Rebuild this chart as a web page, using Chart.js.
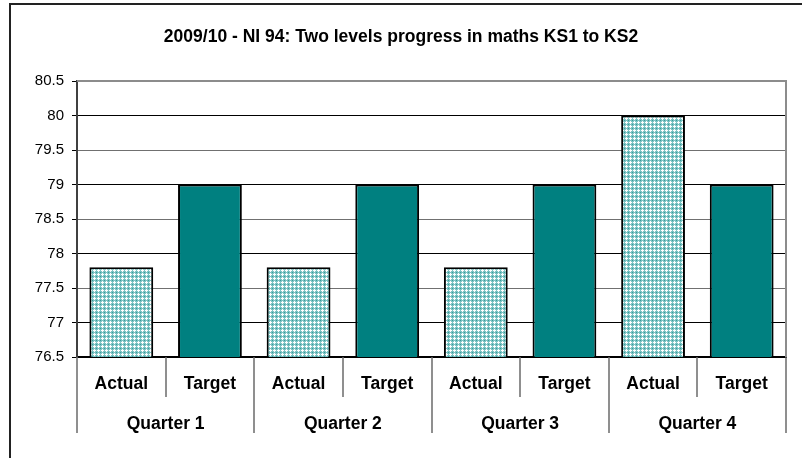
<!DOCTYPE html>
<html>
<head>
<meta charset="utf-8">
<script src="https://cdn.jsdelivr.net/npm/chart.js@4/dist/chart.umd.min.js"></script>
<style>
  html, body { margin: 0; padding: 0; background: #fff; }
  #wrap { width: 802px; height: 458px; }
</style>
</head>
<body>
<div id="wrap"><canvas id="chart" width="802" height="458"></canvas></div>
<script>
const categories = ['Actual', 'Target', 'Actual', 'Target', 'Actual', 'Target', 'Actual', 'Target'];
const quarters = ['Quarter 1', 'Quarter 2', 'Quarter 3', 'Quarter 4'];
const values = [77.8, 79, 77.8, 79, 77.8, 79, 80, 79];
const yMin = 76.5, yMax = 80.5, yStep = 0.5;

const FONT = "'Liberation Sans', Arial, sans-serif";

// hatched fill for the "Actual" bars
const makePattern = () => {
  const c = document.createElement('canvas');
  c.width = 4; c.height = 4;
  const g = c.getContext('2d');
  g.fillStyle = '#7cc3c3';
  g.fillRect(0, 0, 4, 4);
  g.fillStyle = '#ffffff';
  [[2,1],[1,2],[2,2],[3,2],[2,3]].forEach(p => g.fillRect(p[0], p[1], 1, 1));
  g.fillStyle = '#3a9a9a';
  g.fillRect(0, 0, 1, 1);
  return g.createPattern(c, 'repeat');
};
const hatch = makePattern();

const frame = {
  id: 'frame',
  beforeDraw(chart) {
    const ctx = chart.ctx;
    ctx.save();
    ctx.strokeStyle = '#222';
    ctx.lineWidth = 2;
    ctx.beginPath();
    ctx.moveTo(10, chart.height);
    ctx.lineTo(10, 4);
    ctx.lineTo(chart.width, 4);
    ctx.stroke();
    ctx.restore();
  },
  afterDraw(chart) {
    const {ctx, chartArea} = chart;
    const x = chart.scales.x, x2 = chart.scales.x2;
    ctx.save();
    // plot area top / right edges
    ctx.strokeStyle = '#8c8c8c';
    ctx.lineWidth = 2;
    ctx.beginPath();
    ctx.moveTo(chartArea.left, chartArea.top);
    ctx.lineTo(chartArea.right, chartArea.top);
    ctx.lineTo(chartArea.right, chartArea.bottom);
    ctx.stroke();
    // category dividers
    ctx.strokeStyle = '#6a6a6a';
    ctx.lineWidth = 1.5;
    for (let i = 0; i <= categories.length; i++) {
      const px = Math.round(x.getPixelForValue(i - 0.5));
      const bottom = i % 2 === 0 ? x2.bottom : x.bottom;
      ctx.beginPath();
      ctx.moveTo(px, chartArea.bottom);
      ctx.lineTo(px, bottom);
      ctx.stroke();
    }
    ctx.restore();
  }
};

new Chart(document.getElementById('chart'), {
  type: 'bar',
  data: {
    labels: categories,
    datasets: [{
      data: values,
      backgroundColor: categories.map(c => c === 'Actual' ? hatch : '#008080'),
      borderColor: '#000',
      borderWidth: 2,
      borderSkipped: 'start',
      barPercentage: 0.72,
      categoryPercentage: 1
    }]
  },
  options: {
    responsive: false,
    animation: false,
    layout: { padding: { left: 0, right: 0, top: 0, bottom: 25 } },
    plugins: {
      legend: { display: false },
      tooltip: { enabled: false },
      title: {
        display: true,
        text: '2009/10 - NI 94: Two levels progress in maths KS1 to KS2',
        color: '#000',
        font: { family: FONT, size: 17.5, weight: 'bold' },
        padding: { top: 26.5, bottom: 33.5 }
      }
    },
    scales: {
      x: {
        grid: { display: false },
        border: { display: true, color: '#000', width: 2 },
        ticks: { color: '#000', font: { family: FONT, size: 17.5, weight: 'bold' }, padding: 8.5, maxRotation: 0 },
        afterFit: s => { s.height = 40; }
      },
      x2: {
        type: 'category',
        labels: quarters,
        position: 'bottom',
        grid: { display: false },
        border: { display: false },
        ticks: { color: '#000', font: { family: FONT, size: 17.5, weight: 'bold' }, padding: 8.5, maxRotation: 0 },
        afterFit: s => { s.height = 36; }
      },
      y: {
        min: yMin,
        max: yMax,
        ticks: {
          stepSize: yStep,
          color: '#000',
          padding: 8,
          font: { family: FONT, size: 15 },
          callback: v => String(v)
        },
        grid: {
          color: ctx => Number.isInteger(ctx.tick.value) ? '#000' : '#707070',
          tickColor: '#000',
          tickLength: 5,
          lineWidth: 1
        },
        border: { color: '#404040', width: 2 },
        afterFit: s => { s.width = 77; }
      },
      // empty right-hand strip so the title centres on the full canvas
      yRight: {
        position: 'right',
        display: true,
        grid: { display: false },
        border: { display: false },
        ticks: { display: false },
        afterFit: s => { s.width = 16; }
      }
    }
  },
  plugins: [frame]
});
</script>
</body>
</html>
